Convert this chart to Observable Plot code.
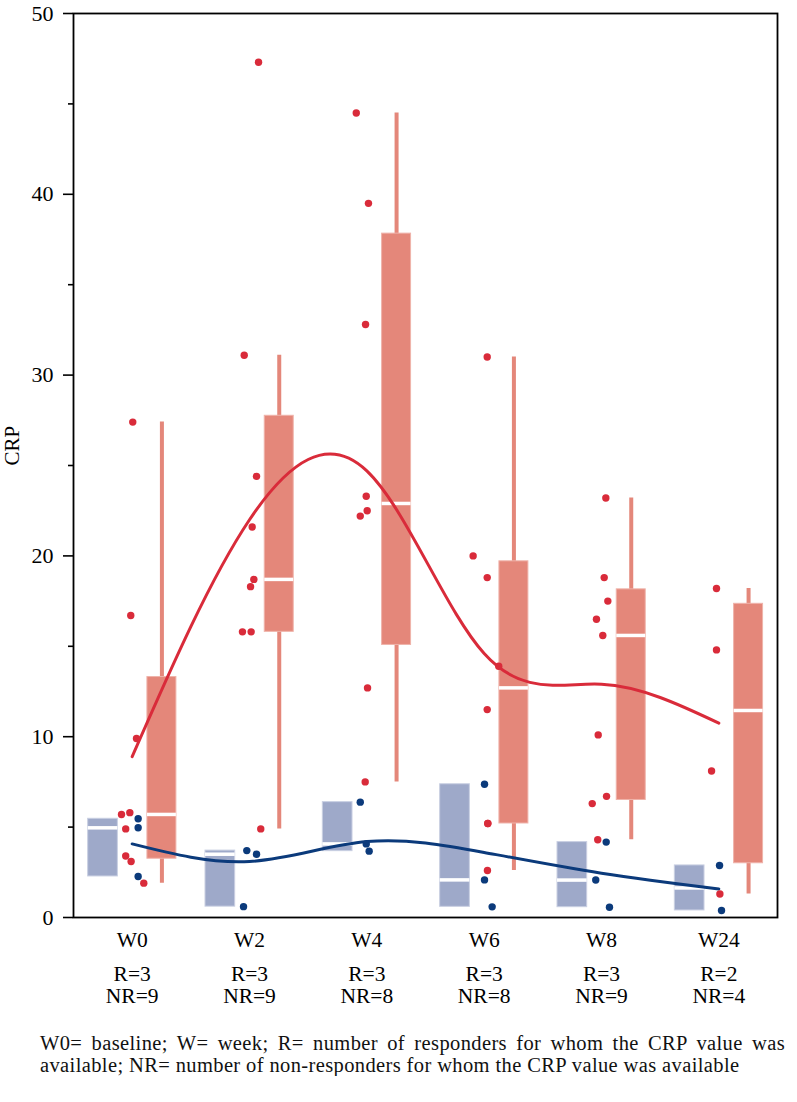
<!DOCTYPE html>
<html><head><meta charset="utf-8">
<script src="https://cdn.jsdelivr.net/npm/d3@7"></script>
<script src="https://cdn.jsdelivr.net/npm/@observablehq/plot@0.6"></script>
<style>
body{margin:0;background:#fff;font-family:"Liberation Serif",serif;}
#chart svg{display:block;}
#caption{margin:20px 0 0 40px;width:745px;font-family:"Liberation Serif",serif;font-size:20.5px;line-height:22px;text-align:justify;letter-spacing:0.38px;color:#111;}
</style></head><body>
<div id="chart"></div>
<div id="caption">W0= baseline; W= week; R= number of responders for whom the CRP value was available; NR= number of non-responders for whom the CRP value was available</div>
<script>
// ---- data ----
const weeks = ["W0", "W2", "W4", "W6", "W8", "W24"];
const nResponders = [3, 3, 3, 3, 3, 2];
const nNonResponders = [9, 9, 8, 8, 9, 4];

// non-responders (red) CRP values per week
const nonResp = [
  [27.4, 16.7, 9.9, 5.8, 5.7, 4.9, 3.4, 3.1, 1.9],
  [47.3, 31.1, 24.4, 21.6, 18.7, 18.3, 15.8, 15.8, 4.9],
  [44.5, 39.5, 32.8, 23.3, 22.5, 22.2, 12.7, 7.5],
  [31.0, 20.0, 18.8, 13.9, 11.5, 5.2, 5.2, 2.6],
  [23.2, 18.8, 17.5, 16.5, 15.6, 10.1, 6.7, 6.3, 4.3],
  [18.2, 14.8, 8.1, 1.3]
];
// horizontal jitter of the red dots (fraction of a week band)
const nonRespJitter = [
  [0.005, -0.012, 0.037, -0.020, -0.091, -0.055, -0.055, -0.009, 0.099],
  [0.077, -0.045, 0.060, 0.023, 0.037, 0.009, -0.060, 0.014, 0.096],
  [-0.090, 0.014, -0.011, -0.005, 0.003, -0.056, 0.006, -0.014],
  [0.026, -0.094, 0.026, 0.124, 0.026, 0.031, 0.031, 0.028],
  [0.037, 0.023, 0.054, -0.043, 0.011, -0.028, 0.043, -0.079, -0.032],
  [-0.020, -0.020, -0.062, 0.009]
];
// responders (blue) CRP values per week
const resp = [
  [5.46, 4.96, 2.27],
  [3.7, 3.5, 0.6],
  [6.38, 4.07, 3.67],
  [7.37, 2.08, 0.59],
  [4.17, 2.07, 0.57],
  [2.88, 0.39]
];
const respJitter = [
  [0.051, 0.051, 0.051],
  [-0.023, 0.060, -0.051],
  [-0.056, -0.005, 0.020],
  [0.003, 0.003, 0.068],
  [0.040, -0.049, 0.068],
  [0.006, 0.023]
];
// smoothed trend curves (value read at each week)
const nonRespTrend = [8.9, 22.0, 24.7, 14.6, 12.9, 10.75];
const respTrend = [4.07, 3.1, 4.2, 3.6, 2.45, 1.58];
const yTicks = [0, 10, 20, 30, 40, 50];
const yMinorTicks = [5, 15, 25, 35, 45];

// ---- colours ----
const RED_DOT = "#d92b3a", RED_BOX = "#e4877a", BLUE_BOX = "#9ea9c9", NAVY = "#0b3a7b";

// type-6 quantile (as used by the reference boxes)
function q6(s, p) {
  const n = s.length, h = (n + 1) * p;
  if (h <= 1) return s[0];
  if (h >= n) return s[n - 1];
  const lo = Math.floor(h);
  return s[lo - 1] + (h - lo) * (s[lo] - s[lo - 1]);
}
function stats(vals, i) {
  const s = vals.slice().sort((a, b) => a - b);
  const q1 = q6(s, 0.25), med = q6(s, 0.5), q3 = q6(s, 0.75), iqr = q3 - q1;
  const lo = d3.min(s.filter(v => v >= q1 - 1.5 * iqr));
  const hi = d3.max(s.filter(v => v <= q3 + 1.5 * iqr));
  return {i, q1, med, q3, lo, hi};
}
const redStats = nonResp.map((v, i) => stats(v, i));
const blueStats = resp.map((v, i) => stats(v, i));

const redDots = nonResp.flatMap((vals, i) => vals.map((v, k) => ({x: i + 0.5 + nonRespJitter[i][k], y: v})));
const blueDots = resp.flatMap((vals, i) => vals.map((v, k) => ({x: i + 0.5 + respJitter[i][k], y: v})));
const redLine = weeks.map((w, i) => ({x: i + 0.5, y: nonRespTrend[i]}));
const blueLine = weeks.map((w, i) => ({x: i + 0.5, y: respTrend[i]}));
const labels = weeks.map((w, i) => ({x: i + 0.5, w, r: "R=" + nResponders[i], nr: "NR=" + nNonResponders[i]}));

const B1 = 0.125, B2 = 0.378, R1 = 0.63, R2 = 0.877, RC = (R1 + R2) / 2;
const FONT = "'Liberation Serif', serif";

const chart = Plot.plot({
  width: 797,
  height: 1012,
  marginLeft: 73,
  marginRight: 20,
  marginTop: 13,
  marginBottom: 95,
  style: {fontFamily: FONT, fontSize: "22px", color: "black", background: "white"},
  x: {domain: [0, 6], axis: null},
  y: {domain: [0, 50], label: null},
  marks: [
    // red whiskers
    Plot.ruleX(redStats, {x: d => d.i + RC, y1: "lo", y2: "hi", stroke: RED_BOX, strokeWidth: 4}),
    // boxes
    Plot.rect(blueStats, {x1: d => d.i + B1, x2: d => d.i + B2, y1: "q1", y2: "q3", fill: BLUE_BOX, stroke: "#c9cfe2", strokeWidth: 1}),
    Plot.rect(redStats, {x1: d => d.i + R1, x2: d => d.i + R2, y1: "q1", y2: "q3", fill: RED_BOX, stroke: "#efb3aa", strokeWidth: 1}),
    // medians
    Plot.ruleY(blueStats, {x1: d => d.i + B1, x2: d => d.i + B2, y: "med", stroke: "white", strokeWidth: 3.5}),
    Plot.ruleY(redStats, {x1: d => d.i + R1, x2: d => d.i + R2, y: "med", stroke: "white", strokeWidth: 3.5}),
    // trend curves
    Plot.line(redLine, {x: "x", y: "y", curve: "natural", stroke: RED_DOT, strokeWidth: 3}),
    Plot.line(blueLine, {x: "x", y: "y", curve: "natural", stroke: NAVY, strokeWidth: 3}),
    // dots
    Plot.dot(redDots, {x: "x", y: "y", r: 3.7, fill: RED_DOT}),
    Plot.dot(blueDots, {x: "x", y: "y", r: 3.7, fill: NAVY}),
    // frame and y axis
    Plot.frame({stroke: "black", strokeWidth: 1.8}),
    Plot.axisY({ticks: yTicks, tickSize: 10, tickPadding: 10, label: null, strokeWidth: 1.6, fontSize: 22, fontFamily: FONT}),
    Plot.axisY({ticks: yMinorTicks, tickSize: 5, tickFormat: () => "", label: null, strokeWidth: 1.6}),
    Plot.text(["CRP"], {frameAnchor: "left", rotate: -90, dx: -61, fontSize: 21, fontFamily: FONT}),
    // x labels (week, responders, non-responders)
    Plot.text(labels, {x: "x", y: () => 0, text: "w", lineAnchor: "bottom", dy: 29, fontSize: 21.5, fontFamily: FONT}),
    Plot.text(labels, {x: "x", y: () => 0, text: "r", lineAnchor: "bottom", dy: 63, fontSize: 21.5, fontFamily: FONT}),
    Plot.text(labels, {x: "x", y: () => 0, text: "nr", lineAnchor: "bottom", dy: 85, fontSize: 21.5, fontFamily: FONT})
  ]
});
document.getElementById("chart").appendChild(chart);
</script>
</body></html>
